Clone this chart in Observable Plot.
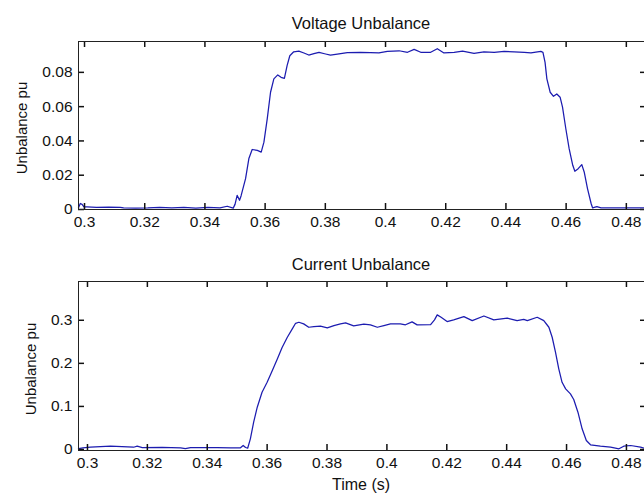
<!DOCTYPE html>
<html>
<head>
<meta charset="utf-8">
<script src="https://cdn.jsdelivr.net/npm/d3@7"></script>
<script src="https://cdn.jsdelivr.net/npm/@observablehq/plot@0.6"></script>
<style>
  html, body { margin: 0; padding: 0; overflow: hidden; background: #fff; }
  #wrap { position: relative; width: 644px; height: 496px; overflow: hidden; background: #fff;
          font-family: "Liberation Sans", Arial, sans-serif; color: #111; }
  .pane { position: absolute; left: 0; }
  .lbl { position: absolute; white-space: nowrap; transform: translate(-50%, -50%); line-height: 1; }
  .rot { transform: translate(-50%, -50%) rotate(-90deg); }
</style>
</head>
<body>
<div id="wrap">
  <div id="top" class="pane" style="top:0px"></div>
  <div id="bot" class="pane" style="top:248px"></div>
  <div class="lbl" style="left:361px; top:23px; font-size:16.5px">Voltage Unbalance</div>
  <div class="lbl" style="left:361px; top:264px; font-size:16.5px">Current Unbalance</div>
  <div class="lbl rot" style="left:21px; top:128px; font-size:15px">Unbalance pu</div>
  <div class="lbl rot" style="left:30px; top:369px; font-size:15px">Unbalance pu</div>
  <div class="lbl" style="left:361px; top:485px; font-size:16px">Time (s)</div>
</div>
<script>
// ---- data ----
const xTicks = [0.3, 0.32, 0.34, 0.36, 0.38, 0.4, 0.42, 0.44, 0.46, 0.48];
const xTickLabels = ["0.3", "0.32", "0.34", "0.36", "0.38", "0.4", "0.42", "0.44", "0.46", "0.48"];
const vTicks = [0, 0.02, 0.04, 0.06, 0.08];
const vTickLabels = ["0", "0.02", "0.04", "0.06", "0.08"];
const cTicks = [0, 0.1, 0.2, 0.3];
const cTickLabels = ["0", "0.1", "0.2", "0.3"];

const voltTime = [0.2980, 0.2986, 0.2992, 0.2998, 0.3008, 0.3040, 0.3080, 0.3119, 0.3130, 0.3170, 0.3210, 0.3250,
  0.3290, 0.3330, 0.3370, 0.3410, 0.3450, 0.3474, 0.3494, 0.3500, 0.3507, 0.3515, 0.3520, 0.3535, 0.3546,
  0.3557, 0.3574, 0.3587, 0.3596, 0.3607, 0.3618, 0.3629, 0.3642, 0.3653, 0.3664, 0.3673, 0.3682, 0.3695,
  0.3712, 0.3729, 0.3745, 0.3762, 0.3779, 0.3801, 0.3817, 0.3840, 0.3873, 0.3917, 0.3950, 0.3978, 0.4006,
  0.4045, 0.4073, 0.4095, 0.4117, 0.4150, 0.4172, 0.4194, 0.4228, 0.4256, 0.4294, 0.4327, 0.4361, 0.4394,
  0.4427, 0.4461, 0.4483, 0.4516, 0.4523, 0.4530, 0.4536, 0.4547, 0.4558, 0.4569, 0.4580, 0.4588, 0.4599,
  0.4610, 0.4622, 0.4629, 0.4640, 0.4652, 0.4660, 0.4671, 0.4683, 0.4688, 0.4702, 0.4716, 0.4750, 0.4782,
  0.4820, 0.4867];
const voltValue = [0.0010, 0.0035, 0.0030, 0.0015, 0.0015, 0.0012, 0.0014, 0.0013, 0.0010, 0.0008, 0.0009, 0.0013,
  0.0009, 0.0012, 0.0008, 0.0012, 0.0010, 0.0019, 0.0008, 0.0030, 0.0083, 0.0054, 0.0079, 0.0180, 0.0297,
  0.0350, 0.0345, 0.0335, 0.0393, 0.0529, 0.0684, 0.0762, 0.0785, 0.0771, 0.0765, 0.0839, 0.0897, 0.0920,
  0.0924, 0.0913, 0.0901, 0.0909, 0.0916, 0.0907, 0.0901, 0.0907, 0.0915, 0.0917, 0.0915, 0.0913, 0.0922,
  0.0926, 0.0917, 0.0934, 0.0917, 0.0917, 0.0938, 0.0913, 0.0917, 0.0924, 0.0911, 0.0919, 0.0917, 0.0922,
  0.0920, 0.0917, 0.0913, 0.0922, 0.0917, 0.0858, 0.0762, 0.0684, 0.0660, 0.0674, 0.0655, 0.0597, 0.0471,
  0.0355, 0.0258, 0.0223, 0.0238, 0.0262, 0.0219, 0.0122, 0.0035, 0.0009, 0.0017, 0.0009, 0.0010, 0.0009,
  0.0010, 0.0009];

const currTime = [0.2970, 0.2985, 0.3010, 0.3077, 0.3154, 0.3166, 0.3183, 0.3250, 0.3311, 0.3327, 0.3344, 0.3433,
  0.3478, 0.3511, 0.3520, 0.3528, 0.3535, 0.3544, 0.3555, 0.3567, 0.3583, 0.3600, 0.3617, 0.3634, 0.3650,
  0.3667, 0.3684, 0.3695, 0.3706, 0.3722, 0.3739, 0.3756, 0.3778, 0.3801, 0.3823, 0.3845, 0.3862, 0.3889,
  0.3923, 0.3945, 0.3968, 0.3990, 0.4012, 0.4045, 0.4062, 0.4084, 0.4101, 0.4146, 0.4159, 0.4168, 0.4181,
  0.4201, 0.4223, 0.4257, 0.4285, 0.4324, 0.4357, 0.4402, 0.4435, 0.4457, 0.4469, 0.4502, 0.4524, 0.4541,
  0.4552, 0.4563, 0.4574, 0.4585, 0.4597, 0.4613, 0.4624, 0.4638, 0.4652, 0.4666, 0.4680, 0.4713, 0.4747,
  0.4775, 0.4791, 0.4814, 0.4847, 0.4867];
const currValue = [0.0020, 0.0040, 0.0053, 0.0077, 0.0053, 0.0077, 0.0046, 0.0050, 0.0039, 0.0023, 0.0046, 0.0046,
  0.0040, 0.0040, 0.0093, 0.0046, 0.0030, 0.0248, 0.0634, 0.0982, 0.1330, 0.1560, 0.1830, 0.2100, 0.2370,
  0.2600, 0.2800, 0.2930, 0.2954, 0.2916, 0.2838, 0.2854, 0.2862, 0.2823, 0.2877, 0.2916, 0.2940, 0.2869,
  0.2908, 0.2893, 0.2838, 0.2877, 0.2916, 0.2916, 0.2895, 0.2963, 0.2893, 0.2900, 0.3010, 0.3125, 0.3070,
  0.2970, 0.3010, 0.3086, 0.2993, 0.3100, 0.3010, 0.3050, 0.2993, 0.3020, 0.2993, 0.3070, 0.2993, 0.2838,
  0.2606, 0.2258, 0.1872, 0.1560, 0.1408, 0.1290, 0.1160, 0.0866, 0.0480, 0.0209, 0.0110, 0.0077, 0.0053,
  0.0016, 0.0077, 0.0093, 0.0053, 0.0016];

const voltData = voltTime.map((t, i) => ({t, v: voltValue[i]}));
const currData = currTime.map((t, i) => ({t, v: currValue[i]}));

const lineColor = "#1c1cb0";
const fmtFrom = (ticks, labels) => d => labels[ticks.findIndex(t => Math.abs(t - d) < 1e-9)] ?? "";
const T = 6; // inward tick length, px
const W = 644, ML = 78, MR = -2;

function panel({data, xDomain, yDomain, yTicks, yLabels, height, marginTop, marginBottom}) {
  const fw = W - ML - MR;                       // frame width in px
  const fh = height - marginTop - marginBottom; // frame height in px
  const tk = {stroke: "#111", strokeWidth: 1.5};
  return Plot.plot({
    width: W,
    height,
    marginLeft: ML,
    marginRight: MR,
    marginTop,
    marginBottom,
    style: {fontFamily: "'Liberation Sans', Arial, sans-serif", fontSize: "15.5px", color: "#111", background: "transparent"},
    x: {domain: xDomain, axis: null},
    y: {domain: yDomain, axis: null},
    marks: [
      Plot.line(data, {x: "t", y: "v", stroke: lineColor, strokeWidth: 1.25}),
      // tick labels
      Plot.axisX({anchor: "bottom", ticks: xTicks, tickSize: 0, tickPadding: 6, tickFormat: fmtFrom(xTicks, xTickLabels), label: null, fill: "#111"}),
      Plot.axisY({anchor: "left", ticks: yTicks, tickSize: 0, tickPadding: 6, tickFormat: fmtFrom(yTicks, yLabels), label: null, fill: "#111"}),
      // inward tick marks on all four sides
      Plot.ruleX(xTicks, {x: d => d, insetTop: fh - T, ...tk}),
      Plot.ruleX(xTicks, {x: d => d, insetBottom: fh - T, ...tk}),
      Plot.ruleY(yTicks, {y: d => d, insetRight: fw - T, ...tk}),
      Plot.ruleY(yTicks, {y: d => d, insetLeft: fw - T, ...tk}),
      Plot.frame({stroke: "#222", strokeWidth: 1})
    ]
  });
}

document.getElementById("top").appendChild(panel({
  data: voltData, xDomain: [0.298, 0.4867], yDomain: [0, 0.098],
  yTicks: vTicks, yLabels: vTickLabels, height: 240, marginTop: 41, marginBottom: 31
}));
document.getElementById("bot").appendChild(panel({
  data: currData, xDomain: [0.297, 0.4867], yDomain: [-0.0023, 0.39],
  yTicks: cTicks, yLabels: cTickLabels, height: 248, marginTop: 33, marginBottom: 46
}));
</script>
</body>
</html>
